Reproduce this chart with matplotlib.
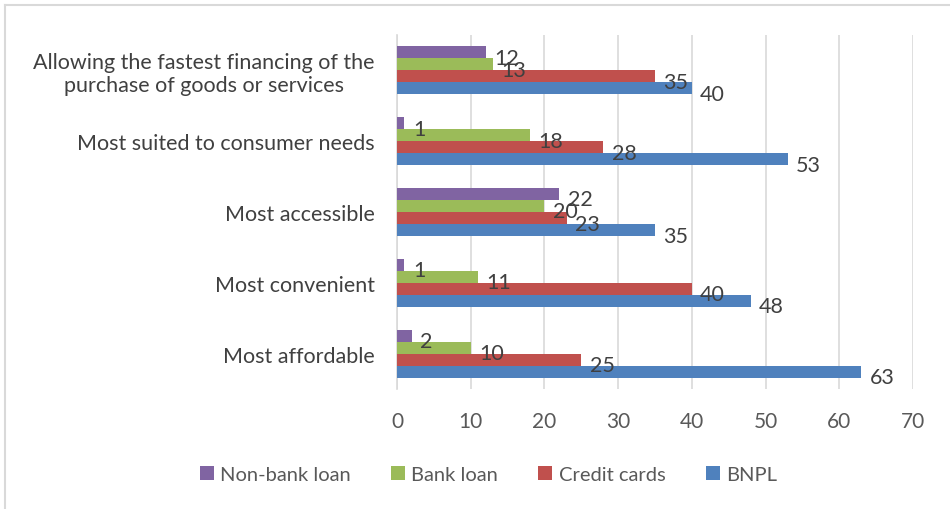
import numpy as np
import matplotlib
matplotlib.use("Agg")
import matplotlib.pyplot as plt
from matplotlib.lines import Line2D

plt.rcParams['font.family'] = ['Lato', 'DejaVu Sans']

categories = ["Most affordable", "Most convenient", "Most accessible",
              "Most suited to consumer needs",
              "Allowing the fastest financing of the\npurchase of goods or services"]
series_names = ["BNPL", "Credit cards", "Bank loan", "Non-bank loan"]
bnpl = [63, 48, 35, 53, 40]
credit_cards = [25, 40, 23, 28, 35]
bank_loan = [10, 11, 20, 18, 13]
non_bank_loan = [2, 1, 22, 1, 12]
colors = ["#4F81BD", "#C0504D", "#9BBB59", "#8064A2"]

fig = plt.figure(figsize=(9.5, 5.1), dpi=100)
ax = fig.add_axes([0.418, 0.235, 0.543, 0.695])

y = np.arange(len(categories))
h = 0.17
all_vals = [bnpl, credit_cards, bank_loan, non_bank_loan]
bars = []
for i, (vals, name, c) in enumerate(zip(all_vals, series_names, colors)):
    offs = (i - 1.5) * h
    b = ax.barh(y + offs, vals, height=h, color=c, label=name, zorder=3)
    bars.append(b)
    for yy, v in zip(y + offs, vals):
        ax.annotate(str(v), (v, yy), xytext=(6, -4), textcoords="offset points",
                    ha="left", va="center", fontsize=15.5, color="#404040", zorder=4)

ax.set_xlim(0, 70)
ax.set_ylim(-0.5, 4.5)
ax.set_xticks(range(0, 71, 10))
ax.set_yticks(y)
ax.set_yticklabels(categories, multialignment="center")
ax.tick_params(axis="y", length=0, pad=16, labelsize=15.5, labelcolor="#404040")
ax.tick_params(axis="x", length=0, pad=16, labelsize=15, labelcolor="#595959")
ax.grid(axis="x", color="#D9D9D9", linewidth=1.2, zorder=0)
for s in ["top", "right", "bottom"]:
    ax.spines[s].set_visible(False)
ax.spines["left"].set_color("#D9D9D9")
ax.spines["left"].set_linewidth(1.2)

handles = [bars[3], bars[2], bars[1], bars[0]]
labels = ["Non-bank loan", "Bank loan", "Credit cards", "BNPL"]
fig.legend(handles, labels, loc="center", bbox_to_anchor=(0.514, 0.068), ncol=4,
           frameon=False, fontsize=14.5, handlelength=0.7, handleheight=0.7,
           handletextpad=0.3, columnspacing=2.0, labelcolor="#595959")

# chart frame (left and top edges visible)
fig.add_artist(Line2D([0.0055, 0.0055], [0, 0.988], transform=fig.transFigure,
                      color="#D9D9D9", linewidth=1.5))
fig.add_artist(Line2D([0.0055, 1], [0.988, 0.988], transform=fig.transFigure,
                      color="#D9D9D9", linewidth=1.5))

fig.savefig("out.png", dpi=100)
